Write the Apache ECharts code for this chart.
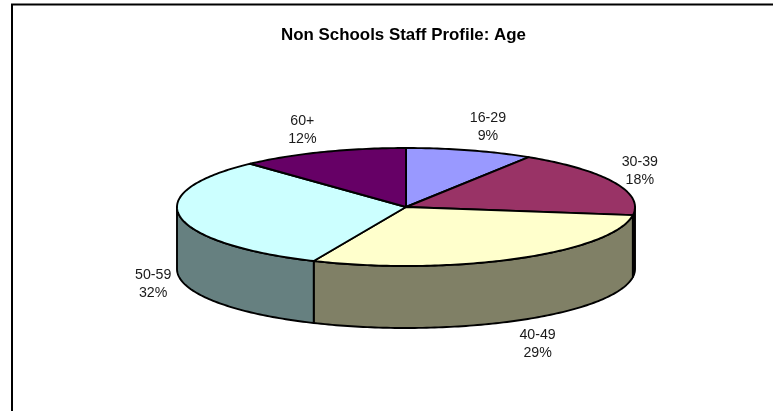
<!DOCTYPE html>
<html><head><meta charset="utf-8">
<style>html,body{margin:0;padding:0;background:#fff}#c{width:773px;height:411px}</style>
<script src="https://cdn.jsdelivr.net/npm/echarts@6/dist/echarts.min.js"></script>
</head><body><div id="c"></div>
<script>
const categories = ['16-29','30-39','40-49','50-59','60+'];
const values = [9.0,18.2,29.4,31.5,11.9];
const topColors = ['#9999FF','#993366','#FFFFCC','#CCFFFF','#660066'];
const sideColors = ['#4D4D80','#4D1A33','#808066','#668080','#330033'];
const labelOffsets = [[18,-23],[26,-11],[20,86],[-27,67],[-20,-22]];

const CX=406, CY=207, RX=229, RY=59, DEPTH=62, STROKE=1.9;
const total = values.reduce((a,b)=>a+b,0);
const starts = values.map((_,i)=>values.slice(0,i).reduce((a,b)=>a+b,0)/total*360);
const pt = (deg,dy)=>{const r=deg*Math.PI/180;return [CX+RX*Math.sin(r),CY-RY*Math.cos(r)+(dy||0)];};
const arc = (a,b,dy)=>{const n=Math.max(2,Math.ceil(Math.abs(b-a)));const o=[];for(let k=0;k<=n;k++)o.push(pt(a+(b-a)*k/n,dy));return o;};

const line = {stroke:'#000',lineWidth:STROKE,lineJoin:'round'};
function sideItem(params){
  const i=params.dataIndex, a=starts[i], b=a+values[i]/total*360;
  const s=Math.max(a,90), e=Math.min(b,270);
  if(e<=s) return {type:'group',children:[]};
  const pts=arc(s,e,0).concat(arc(e,s,DEPTH));
  return {type:'polygon',shape:{points:pts},style:{fill:sideColors[i],...line}};
}
function topItem(params){
  const i=params.dataIndex, a=starts[i], b=a+values[i]/total*360;
  const pts=[[CX,CY]].concat(arc(a,b,0));
  const m=pt((a+b)/2), off=labelOffsets[i];
  return {type:'group',children:[
    {type:'polygon',shape:{points:pts},style:{fill:topColors[i],...line}},
    {type:'text',z2:10,x:m[0]+off[0],y:m[1]+off[1],style:{
      text:categories[i]+'\n'+Math.round(values[i]/total*100)+'%',
      font:'14.2px "Liberation Sans"',fill:'#1a1a1a',align:'center',verticalAlign:'middle',lineHeight:18}}
  ]};
}
const data = values.map((v,i)=>({name:categories[i],value:v}));
echarts.init(document.getElementById('c'),null,{renderer:'canvas'}).setOption({
  animation:false,
  backgroundColor:'#fff',
  title:{text:'Non Schools Staff Profile: Age',left:398.5,top:22,textAlign:'center',
    textStyle:{fontFamily:'Liberation Sans',fontSize:16.9,fontWeight:'bold',color:'#000'}},
  graphic:[{type:'polyline',silent:true,shape:{points:[[12,411],[12,4.5],[773,4.5]]},style:{stroke:'#000',lineWidth:2,fill:null}}],
  series:[
    {type:'custom',coordinateSystem:'none',renderItem:sideItem,data:data,clip:false,z:2},
    {type:'custom',coordinateSystem:'none',renderItem:topItem,data:data,clip:false,z:3}
  ]
});
</script></body></html>
